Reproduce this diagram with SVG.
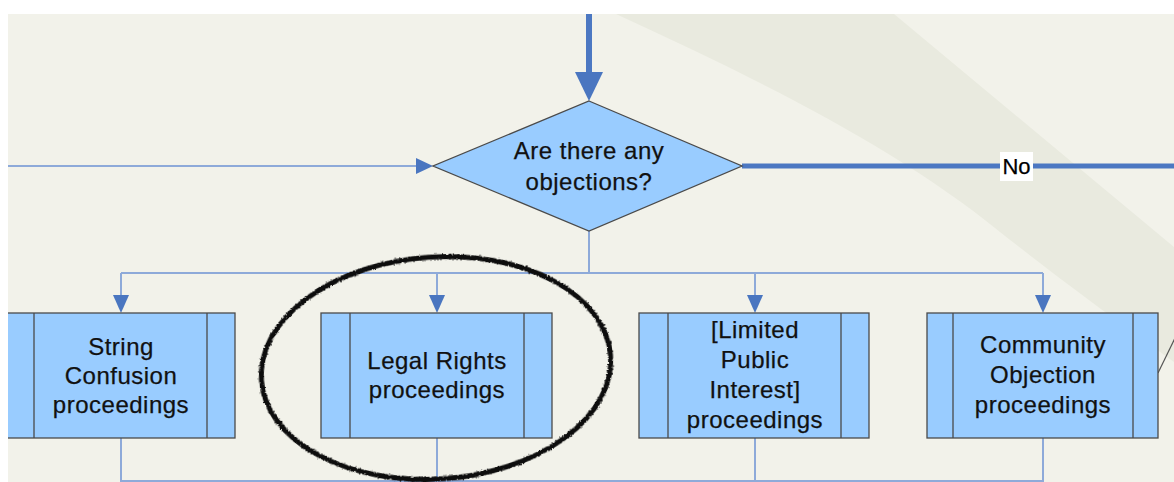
<svg xmlns="http://www.w3.org/2000/svg" width="1174" height="482" viewBox="0 0 1174 482">
  <defs>
    <style>
      .bg { fill: #f2f2ea; }
      .band { fill: #e9eadf; }
      .node { fill: #99ccff; stroke: #4a4a4a; stroke-width: 1.3; }
      .inner { stroke: #4a4a4a; stroke-width: 1.3; fill: none; }
      .label { font-family: "Liberation Sans", Arial, sans-serif; font-size: 24px; fill: #111; text-anchor: middle; letter-spacing: 0.5px; stroke: #111; stroke-width: 0.25px; }
      .thin { stroke: #8eaad9; stroke-width: 2; fill: none; }
      .thick { stroke: #4c78c2; stroke-width: 6; fill: none; }
      .head { fill: #4a76c0; }
    </style>
    <clipPath id="frame">
      <rect x="8" y="14" width="1166" height="468"/>
    </clipPath>
    <filter id="rough" x="-10%" y="-10%" width="120%" height="120%">
      <feTurbulence type="fractalNoise" baseFrequency="0.6" numOctaves="2" seed="3" result="noise"/>
      <feDisplacementMap in="SourceGraphic" in2="noise" scale="3" xChannelSelector="R" yChannelSelector="G"/>
    </filter>
  </defs>

  <rect x="0" y="0" width="1174" height="482" fill="#ffffff"/>
  <g clip-path="url(#frame)">
    <rect class="bg" x="8" y="14" width="1166" height="468"/>
    <path class="band" d="M616,14 C760,80 900,150 1000,232 C1080,295 1130,330 1174,362 L1174,247 L894,14 Z"/>

    <g id="connectors">
      <!-- top thick arrow -->
      <line class="thick" x1="589" y1="10" x2="589" y2="74"/>
      <polygon class="head" points="575,72 603,72 589,101"/>
      <!-- left incoming -->
      <line class="thin" x1="0" y1="166" x2="418" y2="166"/>
      <polygon class="head" points="416,158 416,174 433,166"/>
      <!-- No branch -->
      <line class="thick" x1="742" y1="166" x2="1180" y2="166" style="stroke-width:5"/>
      <!-- diamond down to bus -->
      <line class="thin" x1="589" y1="231" x2="589" y2="273"/>
      <line class="thin" x1="121" y1="273" x2="1043" y2="273"/>
      <line class="thin" x1="121" y1="273" x2="121" y2="297"/>
      <line class="thin" x1="437" y1="273" x2="437" y2="297"/>
      <line class="thin" x1="755" y1="273" x2="755" y2="297"/>
      <line class="thin" x1="1043" y1="273" x2="1043" y2="297"/>
      <polygon class="head" points="113,295 129,295 121,313"/>
      <polygon class="head" points="429,295 445,295 437,313"/>
      <polygon class="head" points="747,295 763,295 755,313"/>
      <polygon class="head" points="1035,295 1051,295 1043,313"/>
      <!-- bottom outputs -->
      <line class="thin" x1="121" y1="438" x2="121" y2="481"/>
      <line class="thin" x1="437" y1="438" x2="437" y2="481"/>
      <line class="thin" x1="755" y1="438" x2="755" y2="481"/>
      <line class="thin" x1="1043" y1="438" x2="1043" y2="481"/>
      <line class="thin" x1="120" y1="481" x2="1044" y2="481"/>
      <!-- grey line from community box -->
      <line x1="1158" y1="373" x2="1176" y2="336" stroke="#555" stroke-width="1.2"/>
    </g>

    <g id="decision">
      <polygon class="node" points="589,101 742,166 589,231 433,166"/>
      <text class="label" x="589" y="159">Are there any</text>
      <text class="label" x="589" y="190">objections?</text>
    </g>
    <rect x="1000" y="152" width="33" height="29" fill="#ffffff"/>
    <text x="1016.5" y="174" font-family="Liberation Sans, Arial, sans-serif" font-size="22" text-anchor="middle" fill="#000" stroke="#000" stroke-width="0.25">No</text>

    <g id="string-confusion">
      <rect class="node" x="4" y="313" width="231" height="125"/>
      <line class="inner" x1="34" y1="313" x2="34" y2="438"/>
      <line class="inner" x1="207" y1="313" x2="207" y2="438"/>
      <text class="label" x="121" y="355">String</text>
      <text class="label" x="121" y="384">Confusion</text>
      <text class="label" x="121" y="413">proceedings</text>
    </g>

    <g id="legal-rights">
      <rect class="node" x="321" y="313" width="231" height="125"/>
      <line class="inner" x1="350" y1="313" x2="350" y2="438"/>
      <line class="inner" x1="524" y1="313" x2="524" y2="438"/>
      <text class="label" x="437" y="369">Legal Rights</text>
      <text class="label" x="437" y="398">proceedings</text>
    </g>

    <g id="limited-public-interest">
      <rect class="node" x="639" y="313" width="230" height="125"/>
      <line class="inner" x1="668" y1="313" x2="668" y2="438"/>
      <line class="inner" x1="841" y1="313" x2="841" y2="438"/>
      <text class="label" x="755" y="338">[Limited</text>
      <text class="label" x="755" y="368">Public</text>
      <text class="label" x="755" y="398">Interest]</text>
      <text class="label" x="755" y="428">proceedings</text>
    </g>

    <g id="community-objection">
      <rect class="node" x="927" y="313" width="231" height="125"/>
      <line class="inner" x1="953" y1="313" x2="953" y2="438"/>
      <line class="inner" x1="1133" y1="313" x2="1133" y2="438"/>
      <text class="label" x="1043" y="353">Community</text>
      <text class="label" x="1043" y="383">Objection</text>
      <text class="label" x="1043" y="413">proceedings</text>
    </g>

    <g id="highlight-ellipse">
      <ellipse cx="436" cy="368" rx="175" ry="111" transform="rotate(-4 436 368)" fill="none" stroke="#111" stroke-width="5" filter="url(#rough)"/>
    </g>
  </g>
</svg>
